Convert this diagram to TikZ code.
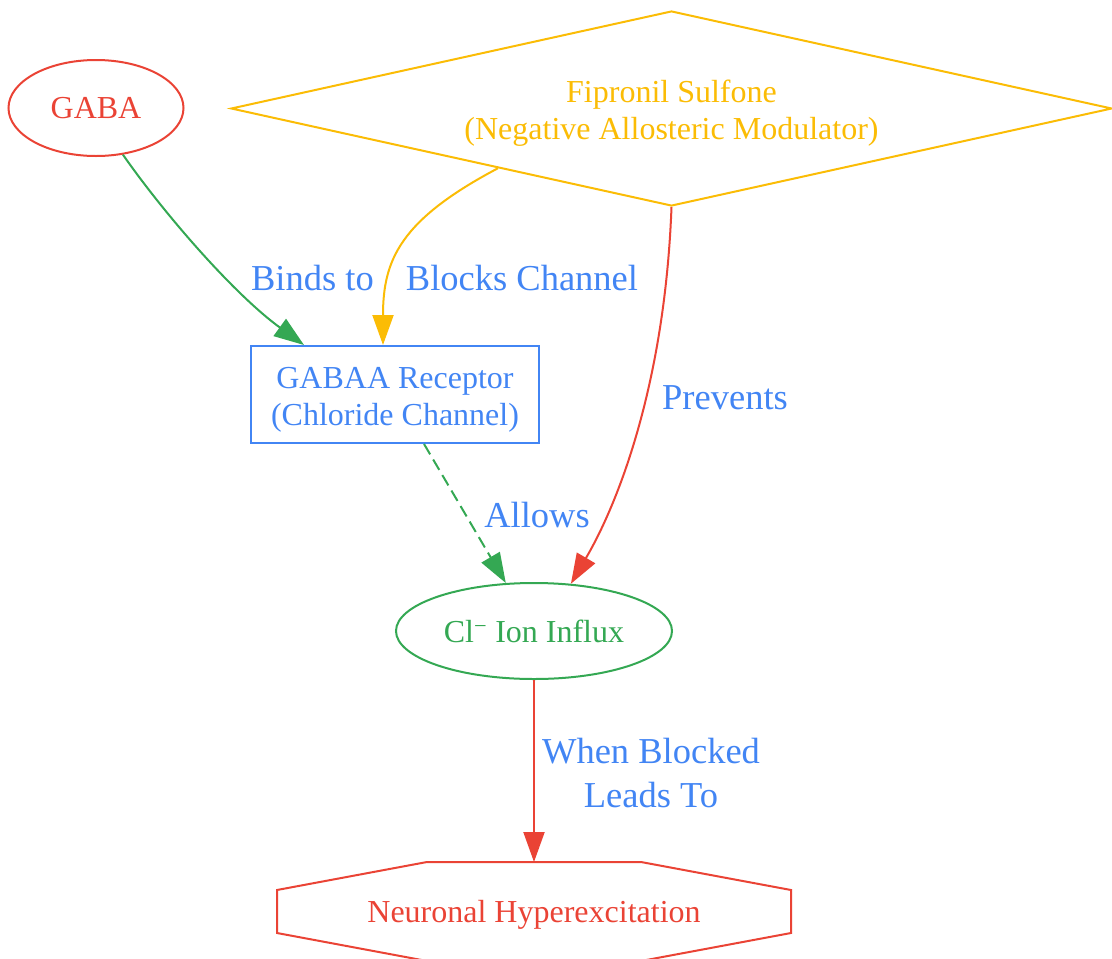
\documentclass[tikz,border=0pt]{standalone}
\usepackage{fontspec}
\setmainfont{Liberation Serif}
\usetikzlibrary{shapes.geometric,arrows.meta}
\definecolor{gred}{HTML}{EA4335}
\definecolor{ggreen}{HTML}{34A853}
\definecolor{gblue}{HTML}{4285F4}
\definecolor{gyellow}{HTML}{FBBC05}
\begin{document}
\begin{tikzpicture}[x=1pt,y=1pt]
        \tikzstyle{block} = [align=center, line width=2pt, inner sep=0pt, font=\fontsize{32}{37}\selectfont]
        \tikzstyle{link} = [-{Triangle[length=30pt,width=21pt]}, line width=2pt]
        \tikzstyle{elabel} = [text=gblue, inner sep=0pt, font=\fontsize{36.5}{44}\selectfont]
        \useasboundingbox (0,0) rectangle (1112,-959);
        \node[block, ellipse, draw=gred, text=gred, minimum width=175pt, minimum height=96pt] (gaba) at (96,-108) {GABA};
        \node[block, diamond, aspect=4.5, draw=gyellow, text=gyellow, minimum width=881pt, minimum height=195pt] (fipronil) at (671.5,-108.5) {\rule{0pt}{32pt}Fipronil Sulfone\\(Negative Allosteric Modulator)};
        \node[block, rectangle, draw=gblue, text=gblue, minimum width=288pt, minimum height=97pt] (recep) at (395,-394.5) {\rule{0pt}{32pt}GABAA Receptor\\(Chloride Channel)};
        \node[block, ellipse, draw=ggreen, text=ggreen, minimum width=276pt, minimum height=96pt] (influx) at (534,-631) {Cl\textsuperscript{−} Ion Influx};
        \node[block, rectangle, text=gred, minimum width=512pt, minimum height=97pt] (hyper) at (534,-911.5) {\rule{0pt}{28pt}Neuronal Hyperexcitation};
        %\node[block, regular polygon, regular polygon sides=8, draw=gred] (hyper) at (534,-911.5) {Neuronal Hyperexcitation};
        \draw[gred, line width=2pt] ([xshift=150pt]hyper.north west) -- ([xshift=-150pt]hyper.north east) -- ([yshift=-28pt]hyper.north east) -- ([yshift=28pt]hyper.south east) -- ([xshift=-150pt]hyper.south east) -- ([xshift=150pt]hyper.south west) -- ([yshift=28pt]hyper.south west) -- ([yshift=-28pt]hyper.north west) -- cycle;
        \node[elabel, anchor=base] (bindslbl) at (312.5,-290) {Binds to};
        \node[elabel, anchor=base] (blockslbl) at (522,-290) {Blocks Channel};
        \node[elabel, anchor=base] (preventslbl) at (725,-409) {Prevents};
        \node[elabel, anchor=base] (allowslbl) at (537,-527) {Allows};
        \node[elabel, align=center] (leadslbl) at (651,-773.5) {When Blocked\\Leads To};
        \draw[link, ggreen] (gaba.-60) .. controls (165,-215) and (235,-295) .. ([xshift=-91pt]recep.north);
        \draw[link, gyellow] (fipronil.199) .. controls (400,-220) and (383,-260) .. ([xshift=-12pt]recep.north);
        \draw[link, gred] (fipronil.south) .. controls (665,-380) and (620,-500) .. (influx.52);
        \draw[link, ggreen, dash pattern=on 12pt off 6pt] (recep) -- (influx);
        \draw[link, gred] (influx) -- (hyper);
    \end{tikzpicture}
\end{document}
